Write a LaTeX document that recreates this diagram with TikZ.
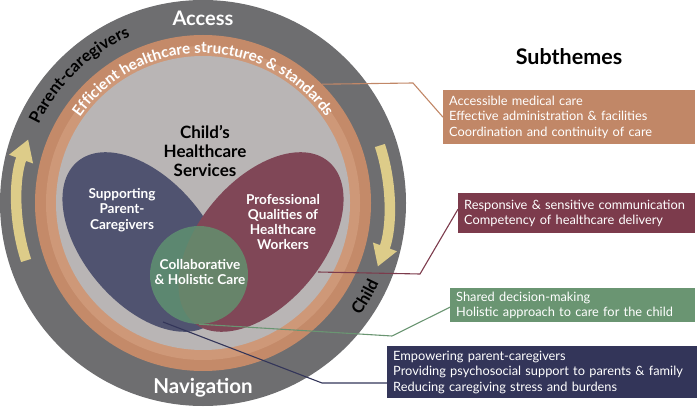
\documentclass[tikz,border=0pt]{standalone}
\usepackage{fontspec}
\setmainfont{Lato}
\usetikzlibrary{arrows.meta,decorations.text}
\definecolor{darkring}{RGB}{110,110,112}
\definecolor{orangeA}{RGB}{196,138,105}
\definecolor{orangeB}{RGB}{206,152,120}
\definecolor{innergray}{RGB}{185,181,181}
\definecolor{blueell}{RGB}{80,83,112}
\definecolor{redell}{RGB}{128,71,87}
\definecolor{greenc}{RGB}{96,150,112}
\definecolor{arrowy}{RGB}{221,204,137}
\definecolor{boxorange}{RGB}{193,135,103}
\definecolor{boxred}{RGB}{124,59,76}
\definecolor{boxgreen}{RGB}{106,149,114}
\definecolor{boxblue}{RGB}{51,53,89}
\begin{document}
\begin{tikzpicture}[x=1pt,y=1pt,
  boxnode/.style={rectangle, anchor=north west, inner xsep=6pt, inner ysep=2pt,
    align=left, text=white, font=\fontsize{12.8}{15.3}\selectfont},
  ringlabel/.style={text=white, font=\bfseries\fontsize{20}{22}\selectfont},
  themelabel/.style={align=center, text=white, font=\bfseries\fontsize{13.6}{15.3}\selectfont},
  conn/.style={line width=1.1pt},
  ringarrow/.style={arrowy, line width=10.5pt, -{Triangle[width=24pt,length=21pt]}}
]
\useasboundingbox (0,0) rectangle (700,407);
\coordinate (C) at (203,204);

% rings
\fill[darkring] (C) circle[radius=203];
\fill[orangeA] (C) circle[radius=168];
\fill[orangeB] (C) circle[radius=157];
\fill[innergray] (C) circle[radius=147];

% yellow arrows
\draw[ringarrow] ([shift={(198:186)}]C) arc[start angle=198, end angle=160, radius=186];
\draw[ringarrow] ([shift={(18:186)}]C) arc[start angle=18, end angle=-20, radius=186];

% ellipses and circle
\fill[blueell] (145,165) ellipse[x radius=105, y radius=62, rotate=-50];
\fill[redell] (261,165) ellipse[x radius=105, y radius=62, rotate=50];
\node[circle, fill=greenc, fill opacity=0.78, minimum size=98pt, inner sep=0pt] (green) at (199,132) {};

% ring texts
\node[ringlabel] (access) at (203,389) {Access};
\node[ringlabel, font=\bfseries\fontsize{20.5}{22}\selectfont] (nav) at (203,19) {Navigation};
\path[decorate, decoration={text along path, text align=center, text color=white,
  text={|\bfseries\fontsize{15.2}{17}\selectfont|Efficient healthcare structures {\&} standards}}]
  ([shift={(178:150)}]C) arc[start angle=178, end angle=2, radius=150];
\path[decorate, decoration={text along path, text align=center, text color=black,
  text={|\bfseries\fontsize{16.5}{18}\selectfont|Parent-caregivers}}]
  ([shift={(178:182)}]C) arc[start angle=178, end angle=90, radius=182];
\path[decorate, decoration={text along path, text align=center, text color=black,
  text={|\bfseries\fontsize{16.5}{18}\selectfont|Child}}]
  ([shift={(-75:193)}]C) arc[start angle=-75, end angle=15, radius=193];

% inner texts
\node[align=center, font=\bfseries\fontsize{17}{18.8}\selectfont] (title) at (205,256) {Child's\\Healthcare\\Services};
\node[themelabel] (support) at (122,197) {Supporting\\Parent-\\Caregivers};
\node[themelabel] (prof) at (283,185) {Professional\\Qualities of\\Healthcare\\Workers};
\node[themelabel] (collab) at (200,135) {Collaborative\\\& Holistic Care};

% subthemes
\node[font=\bfseries\fontsize{21.5}{24}\selectfont] (sub) at (569,350) {Subthemes};
\node[boxnode, fill=boxorange, minimum width=252pt, minimum height=54pt, text width=240pt] (bo) at (443,317)
  {Accessible medical care\\Effective administration \& facilities\\Coordination and continuity of care};
\node[boxnode, fill=boxred, minimum width=237pt, minimum height=40pt, text width=225pt] (br) at (458,214)
  {Responsive \& sensitive communication\\Competency of healthcare delivery};
\node[boxnode, fill=boxgreen, minimum width=245pt, minimum height=34pt, text width=233pt] (bg) at (450,119)
  {Shared decision-making\\Holistic approach to care for the child};
\node[boxnode, fill=boxblue, minimum width=310pt, minimum height=52pt, text width=298pt] (bb) at (387,61)
  {Empowering parent-caregivers\\Providing psychosocial support to parents \& family\\Reducing caregiving stress and burdens};

% connectors
\coordinate (oS) at ([shift={(45:168)}]C);
\coordinate (oK) at (413,324);
\draw[conn, boxorange] (oS) -- (oK) -- (bo.west);
\coordinate (rS) at (318,135);
\coordinate (rK) at (420,133);
\draw[conn, boxred] (rS) -- (rK) -- ([yshift=4pt]br.west);
\coordinate (gK) at (392,71);
\draw[conn, boxgreen] (green.south) -- (gK) -- ([yshift=-2pt]bg.west);
\coordinate (bS) at (163,85);
\coordinate (bK) at (322,24);
\draw[conn, boxblue] (bS) -- (bK) -- (bK -| bb.west);
\end{tikzpicture}
\end{document}
